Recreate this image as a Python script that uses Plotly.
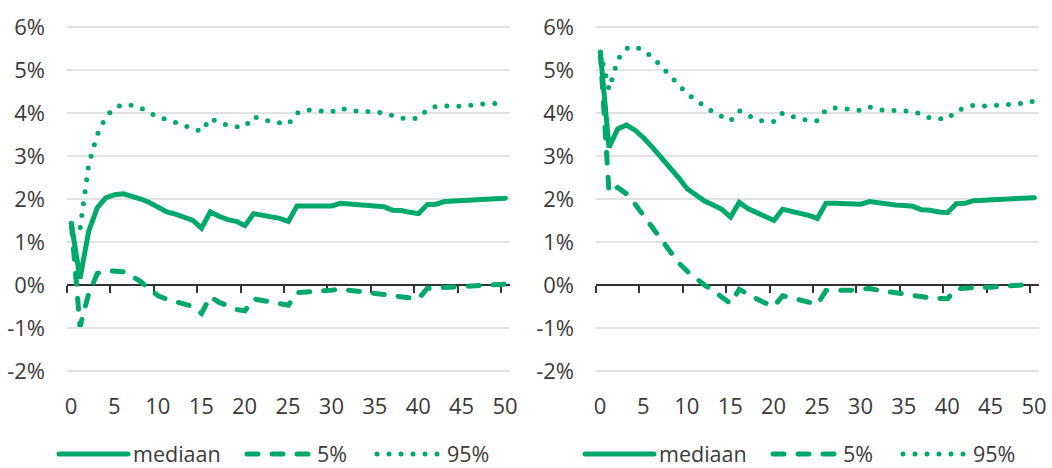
import plotly.graph_objects as go

# ---------------- data ----------------
years = list(range(51))
x_ticks = list(range(0, 51, 5))
y_ticks = list(range(-2, 7))
y_tick_labels = [f"{v}%" for v in y_ticks]
series_names = ["mediaan", "5%", "95%"]

left_median = [1.43, 0.15, 1.25, 1.80, 2.03, 2.10, 2.12, 2.07, 2.00, 1.92,
               1.80, 1.70, 1.65, 1.56, 1.50, 1.32, 1.70, 1.60, 1.52, 1.48,
               1.38, 1.66, 1.62, 1.60, 1.55, 1.48, 1.84, 1.84, 1.84, 1.84,
               1.84, 1.90, 1.88, 1.86, 1.84, 1.83, 1.82, 1.74, 1.73, 1.69,
               1.66, 1.87, 1.88, 1.94, 1.95, 1.96, 1.99, 1.98, 1.99, 2.01, 2.02]
left_p5 = [1.43, -0.97, -0.20, 0.27, 0.33, 0.32, 0.31, 0.20, 0.08, -0.10,
           -0.25, -0.33, -0.38, -0.45, -0.50, -0.66, -0.27, -0.40, -0.50, -0.57,
           -0.60, -0.32, -0.36, -0.40, -0.44, -0.47, -0.18, -0.17, -0.15, -0.13,
           -0.12, -0.10, -0.12, -0.15, -0.17, -0.18, -0.22, -0.25, -0.28, -0.30,
           -0.32, -0.08, -0.07, -0.05, -0.05, -0.04, -0.03, -0.02, 0.00, 0.02, 0.02]
left_p95 = [1.43, 1.30, 2.80, 3.50, 3.92, 4.12, 4.20, 4.18, 4.12, 4.00,
            3.90, 3.85, 3.78, 3.70, 3.62, 3.57, 3.88, 3.78, 3.72, 3.68,
            3.68, 3.92, 3.84, 3.80, 3.77, 3.74, 4.00, 4.08, 4.06, 4.04,
            4.03, 4.12, 4.06, 4.04, 4.04, 4.03, 4.00, 3.95, 3.88, 3.86,
            3.88, 4.08, 4.15, 4.17, 4.15, 4.16, 4.17, 4.20, 4.22, 4.22, 4.27]

right_median = [5.41, 3.20, 3.63, 3.72, 3.60, 3.42, 3.20, 2.98, 2.75, 2.50,
                2.24, 2.10, 1.95, 1.86, 1.76, 1.58, 1.92, 1.78, 1.68, 1.60,
                1.50, 1.76, 1.71, 1.68, 1.62, 1.55, 1.90, 1.90, 1.90, 1.89,
                1.88, 1.94, 1.91, 1.88, 1.86, 1.85, 1.83, 1.75, 1.74, 1.70,
                1.68, 1.89, 1.90, 1.96, 1.97, 1.98, 2.00, 1.99, 2.00, 2.02, 2.03]
right_p5 = [5.41, 2.15, 2.27, 2.12, 1.88, 1.60, 1.35, 1.08, 0.78, 0.52,
            0.32, 0.15, 0.00, -0.13, -0.27, -0.43, -0.10, -0.22, -0.32, -0.42,
            -0.50, -0.25, -0.30, -0.35, -0.40, -0.45, -0.13, -0.13, -0.12, -0.12,
            -0.10, -0.08, -0.12, -0.15, -0.18, -0.20, -0.24, -0.28, -0.30, -0.31,
            -0.32, -0.09, -0.07, -0.06, -0.05, -0.05, -0.04, -0.03, -0.01, 0.01, 0.02]
right_p95 = [5.41, 4.55, 5.24, 5.50, 5.55, 5.45, 5.30, 5.08, 4.88, 4.65,
             4.45, 4.30, 4.15, 4.02, 3.92, 3.82, 4.05, 3.95, 3.85, 3.80,
             3.80, 4.00, 3.92, 3.88, 3.82, 3.82, 4.08, 4.12, 4.10, 4.08,
             4.06, 4.14, 4.08, 4.06, 4.06, 4.05, 4.02, 3.98, 3.88, 3.86,
             3.86, 4.05, 4.12, 4.18, 4.16, 4.17, 4.17, 4.20, 4.22, 4.22, 4.28]

# ---------------- style ----------------
W, H = 1052, 468
GREEN = "#00a86b"
TEXT = "#3a3a3a"
GRID = "#e2e2e2"
AXIS = "#333333"
FONT = "Open Sans, Noto Sans, sans-serif"
FS = 22
LEG_FS = 21.5
LW = 5
DASHES = {"mediaan": "solid", "5%": "11px,14px", "95%": "0px,12px"}
# legend entry placement (left edge of the symbol, px) and symbol width
LEG_X = {"mediaan": 54, "5%": 242, "95%": 372}
LEG_W = {"mediaan": 69, "5%": 65, "95%": 65}
LEG_Y = 454
PANEL_SHIFT = 526

x_pos = [y + 0.5 for y in years]          # each year centred in its unit
X_RANGE = [0, 51]
PX_PER_UNIT = (509.7 - 67) / 51
LABEL_SHIFT = 4 / PX_PER_UNIT             # tick labels sit slightly right of the ticks
Y_RANGE = [-2.03, 6.03]

def xdom(px0, px1):
    return [px0 / W, px1 / W]

y_top_px, y_bot_px = 27 - 0.03 * 43, 371 + 0.03 * 43
ydom = [1 - y_bot_px / H, 1 - y_top_px / H]
left_dom = xdom(67, 509.7)
right_dom = xdom(596, 1038.7)
zero_pos = ydom[0] + (0 - Y_RANGE[0]) / (Y_RANGE[1] - Y_RANGE[0]) * (ydom[1] - ydom[0])

fig = go.Figure()

panels = [
    ("x", "y", 0, [left_median, left_p5, left_p95]),
    ("x2", "y2", 1, [right_median, right_p5, right_p95]),
]
legend_layouts = {}
li = 0
for xa, ya, p, series in panels:
    for name, vals in zip(series_names, series):
        li += 1
        lg = "legend" if li == 1 else f"legend{li}"
        fig.add_trace(go.Scatter(
            x=x_pos, y=vals, name=name, mode="lines",
            line=dict(color=GREEN, width=LW, dash=DASHES[name]),
            xaxis=xa, yaxis=ya, legend=lg, hoverinfo="skip",
        ))
        legend_layouts[lg] = dict(
            orientation="h", font=dict(family=FONT, size=LEG_FS, color=TEXT),
            bgcolor="rgba(0,0,0,0)", itemwidth=LEG_W[name], tracegroupgap=0,
            yanchor="middle", y=1 - LEG_Y / H, xanchor="left",
            x=(LEG_X[name] + p * PANEL_SHIFT) / W,
            itemclick=False, itemdoubleclick=False)

# invisible helper traces hosting the tick-label axes
for xa, ya in (("x3", "y"), ("x4", "y2")):
    fig.add_trace(go.Scatter(x=[x_pos[0]], y=[None], mode="lines", showlegend=False,
                             xaxis=xa, yaxis=ya, hoverinfo="skip"))

tickfont = dict(family=FONT, size=FS, color=TEXT)
# data axes: drawn as the 0% baseline with downward tick marks
data_x = dict(range=X_RANGE, tickvals=x_ticks, showticklabels=False, showgrid=False,
              zeroline=False, showline=True, linecolor=AXIS, linewidth=2,
              ticks="outside", ticklen=7, tickwidth=2, tickcolor=AXIS,
              anchor="free", position=zero_pos, fixedrange=True, automargin=False,
              layer="below traces")
# label axes at the bottom
label_x = dict(range=[X_RANGE[0] - LABEL_SHIFT, X_RANGE[1] - LABEL_SHIFT],
               tickvals=x_ticks, ticktext=[str(v) for v in x_ticks],
               showgrid=False, zeroline=False, showline=False, ticks="",
               tickfont=tickfont, ticklabelstandoff=19, fixedrange=True,
               automargin=False)
base_y = dict(range=Y_RANGE, domain=ydom, tickvals=y_ticks, ticktext=y_tick_labels,
              showgrid=True, gridcolor=GRID, gridwidth=2, zeroline=False,
              showline=False, ticks="", tickfont=tickfont, ticklabelstandoff=21,
              fixedrange=True, automargin=False)

fig.update_layout(
    width=W, height=H,
    margin=dict(l=0, r=0, t=0, b=0, pad=0, autoexpand=False),
    paper_bgcolor="white", plot_bgcolor="white",
    font=dict(family=FONT, color=TEXT),
    showlegend=True,
    xaxis=dict(data_x, domain=left_dom),
    yaxis=dict(base_y, anchor="x"),
    xaxis2=dict(data_x, domain=right_dom),
    yaxis2=dict(base_y, anchor="x2"),
    xaxis3=dict(label_x, overlaying="x", domain=left_dom, anchor="y"),
    xaxis4=dict(label_x, overlaying="x2", domain=right_dom, anchor="y2"),
    **legend_layouts,
)

post = """
(function(){
  document.body.style.margin = '0';
  var gd = document.querySelector('.plotly-graph-div');
  function fix(){
    gd.querySelectorAll('.scatterlayer path.js-line, .legendlines path').forEach(function(p){
      p.style.strokeLinecap = 'round';
    });
  }
  fix();
  gd.on && gd.on('plotly_afterplot', fix);
})();
"""
fig.write_html("out.html", post_script=post, config={"staticPlot": True})
